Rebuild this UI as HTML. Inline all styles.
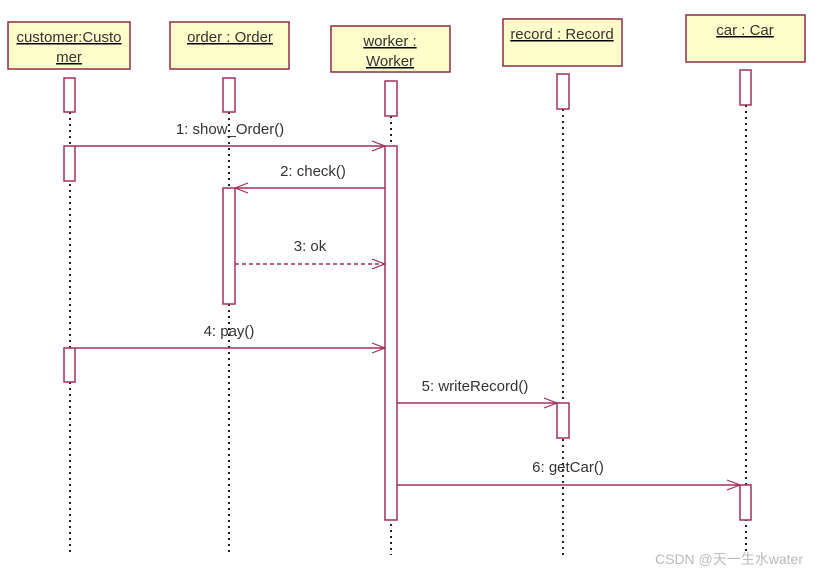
<!DOCTYPE html>
<html><head><meta charset="utf-8"><style>
html,body{margin:0;padding:0;background:#fff;width:822px;height:574px;overflow:hidden}
text{font-family:"Liberation Sans","Noto Sans CJK SC",sans-serif;font-size:15px;fill:#333}
</style></head><body>
<svg width="822" height="574" xmlns="http://www.w3.org/2000/svg">
<defs>
<marker id="a" markerWidth="14" markerHeight="12" refX="13" refY="6" orient="auto" markerUnits="userSpaceOnUse">
<path d="M0,1 L13,6 L0,11" fill="none" stroke="#a3305a" stroke-width="1.2"/></marker>
</defs>
<g stroke="#222" stroke-width="2" stroke-dasharray="2,4">
<line x1="70" y1="112" x2="70" y2="553"/>
<line x1="229" y1="112" x2="229" y2="553"/>
<line x1="391" y1="116" x2="391" y2="555"/>
<line x1="563" y1="109" x2="563" y2="555"/>
<line x1="746" y1="105" x2="746" y2="555"/>
</g>
<g fill="#ffffcc" stroke="#8e2c46" stroke-width="1.5">
<rect x="8" y="22" width="122" height="47"/>
<rect x="170" y="22" width="119" height="47"/>
<rect x="331" y="26" width="119" height="46"/>
<rect x="503" y="19" width="119" height="47"/>
<rect x="686" y="15" width="119" height="47"/>
</g>
<g fill="#fff" stroke="#a3305a" stroke-width="1.5">
<rect x="64" y="78" width="11" height="34"/>
<rect x="223" y="78" width="12" height="34"/>
<rect x="385" y="81" width="12" height="35"/>
<rect x="557" y="74" width="12" height="35"/>
<rect x="740" y="70" width="11" height="35"/>
<rect x="64" y="146" width="11" height="35"/>
<rect x="385" y="146" width="12" height="374"/>
<rect x="223" y="188" width="12" height="116"/>
<rect x="64" y="348" width="11" height="34"/>
<rect x="557" y="403" width="12" height="35"/>
<rect x="740" y="485" width="11" height="35"/>
</g>
<g stroke="#a3305a" stroke-width="1.5" fill="none">
<line x1="75" y1="146" x2="385" y2="146" marker-end="url(#a)"/>
<line x1="385" y1="188" x2="235" y2="188" marker-end="url(#a)"/>
<line x1="235" y1="264" x2="385" y2="264" stroke-dasharray="4,3" marker-end="url(#a)"/>
<line x1="75" y1="348" x2="385" y2="348" marker-end="url(#a)"/>
<line x1="397" y1="403" x2="557" y2="403" marker-end="url(#a)"/>
<line x1="397" y1="485" x2="740" y2="485" marker-end="url(#a)"/>
</g>
<g text-decoration="underline" text-anchor="middle">
<text x="69" y="42">customer:Custo</text>
<text x="69" y="62">mer</text>
<text x="230" y="42">order : Order</text>
<text x="390" y="46">worker :</text>
<text x="390" y="66">Worker</text>
<text x="562" y="39">record : Record</text>
<text x="745" y="35">car : Car</text>
</g>
<g text-anchor="middle">
<text x="230" y="134">1: show_Order()</text>
<text x="313" y="176">2: check()</text>
<text x="310" y="251">3: ok</text>
<text x="229" y="336">4: pay()</text>
<text x="475" y="391">5: writeRecord()</text>
<text x="568" y="472">6: getCar()</text>
</g>
<text x="655" y="564" style="font-size:14px;fill:#bbb">CSDN @天一生水water</text>
</svg>
</body></html>
